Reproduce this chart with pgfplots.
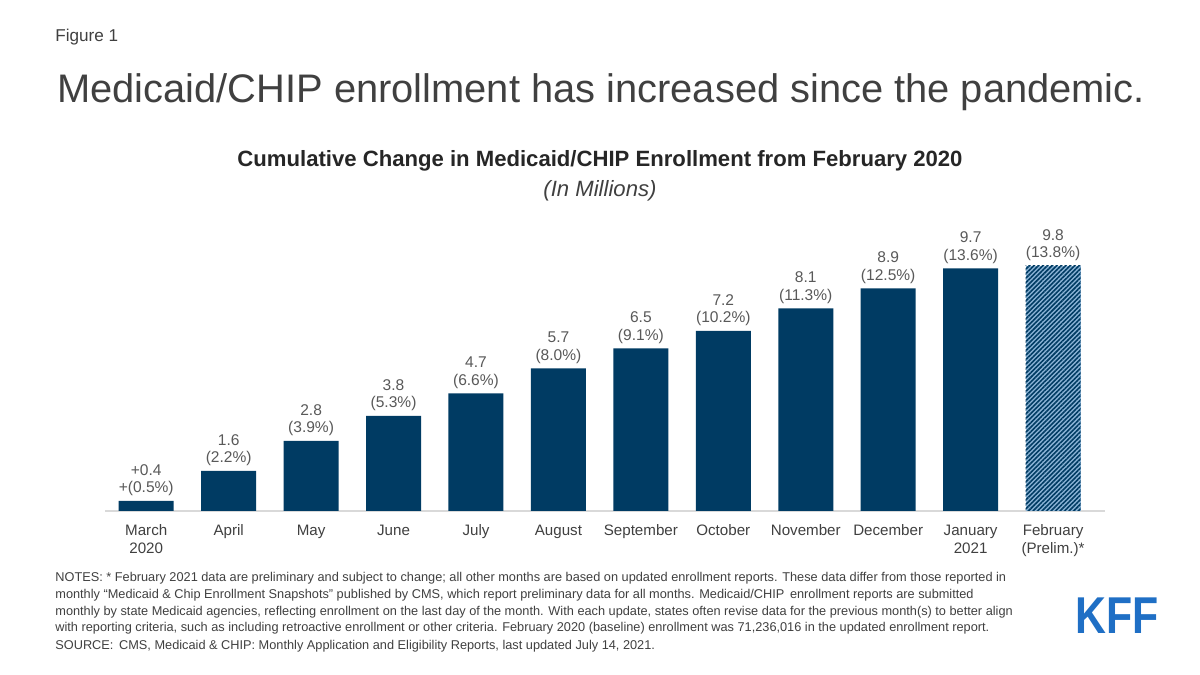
\documentclass[border=0pt]{standalone}
\usepackage{pgfplots}
\pgfplotsset{compat=1.18}
\usepackage{fontspec}
\setmainfont{Liberation Sans}
\usetikzlibrary{patterns.meta}
\definecolor{navy}{RGB}{0,59,99}
\definecolor{lightnavy}{RGB}{140,180,215}
\definecolor{txt}{RGB}{64,64,64}
\definecolor{lbl}{RGB}{89,89,89}
\definecolor{kff}{RGB}{31,111,197}
\begin{document}
\begin{tikzpicture}
\fill[white] (0,0) rectangle (600bp,337.5bp);
% headings
\node[anchor=base west, text=txt, font=\fontsize{8.6}{10}\selectfont, inner sep=0] at (27.5bp,316.5bp) {Figure 1};
\node[anchor=base west, text=txt, font=\fontsize{20}{24}\selectfont, inner sep=0] at (28.5bp,286bp) {Medicaid/CHIP enrollment has increased since the pandemic.};
\node[anchor=base, text=black!85, font=\fontsize{11.1}{13}\selectfont\bfseries, inner sep=0] at (300bp,254bp) {Cumulative Change in Medicaid/CHIP Enrollment from February 2020};
\node[anchor=base, text=txt, font=\fontsize{11.1}{13}\selectfont\itshape, inner sep=0] at (300bp,239bp) {(In Millions)};

\begin{axis}[
    at={(52.5bp,82bp)}, anchor=south west,
    scale only axis, width=500bp, height=125bp,
    xmin=-0.5, xmax=11.63, ymin=0, ymax=10,
    axis y line=none, axis x line*=bottom,
    x axis line style={draw=black!15, line width=0.6pt, -},
    xtick={0,...,11}, major tick length=0pt,
    xticklabels={March\\2020,April,May,June,July,August,September,October,November,December,January\\2021,February\\(Prelim.)*},
    typeset ticklabels with strut,
    xticklabel style={align=center, anchor=north, text=txt, font=\fontsize{7.6}{9.3}\selectfont, yshift=-2bp},
    ybar, bar width=27.5bp, bar shift=0pt,
    nodes near coords, point meta=explicit symbolic,
    every node near coord/.append style={align=center, text=lbl, font=\fontsize{7.8}{8.8}\selectfont, anchor=south, yshift=-1bp},
    clip=false,
]
\addplot[draw=none, fill=navy] coordinates {
    (0,0.4) [{+0.4\\+(0.5\%)}]
    (1,1.6) [{1.6\\(2.2\%)}]
    (2,2.8) [{2.8\\(3.9\%)}]
    (3,3.8) [{3.8\\(5.3\%)}]
    (4,4.7) [{4.7\\(6.6\%)}]
    (5,5.7) [{5.7\\(8.0\%)}]
    (6,6.5) [{6.5\\(9.1\%)}]
    (7,7.2) [{7.2\\(10.2\%)}]
    (8,8.1) [{8.1\\(11.3\%)}]
    (9,8.9) [{8.9\\(12.5\%)}]
    (10,9.7) [{9.7\\(13.6\%)}]
};
\addplot[draw=none, fill=lightnavy, postaction={pattern={Lines[angle=45,distance=1.6bp,line width=0.8bp]}, pattern color=navy}] coordinates {
    (11,9.8) [{9.8\\(13.8\%)}]
};
\end{axis}

% notes
\begin{scope}[every node/.style={anchor=base west, text=txt, font=\fontsize{6.4}{7}\selectfont, inner sep=0}]
\node at (27.5bp,46.5bp) {NOTES: * February 2021 data are preliminary and subject to change; all other months are based on updated enrollment reports. These data differ from those reported in};
\node at (27.5bp,38.2bp) {monthly “Medicaid \& Chip Enrollment Snapshots” published by CMS, which report preliminary data for all months. Medicaid/CHIP\, enrollment reports are submitted};
\node at (27.5bp,29.9bp) {monthly by state Medicaid agencies, reflecting enrollment on the last day of the month. With each update, states often revise data for the previous month(s) to better align};
\node at (27.5bp,21.6bp) {with reporting criteria, such as including retroactive enrollment or other criteria. February 2020 (baseline) enrollment was 71,236,016 in the updated enrollment report.};
\node at (27.5bp,13bp) {SOURCE:\, CMS, Medicaid \& CHIP: Monthly Application and Eligibility Reports, last updated July 14, 2021.};
\end{scope}
% logo
\node[anchor=base west, inner sep=0, text=kff, font=\fontsize{26}{28}\selectfont\bfseries] at (537.5bp,21bp) {\scalebox{0.826}[1]{KFF}};
\end{tikzpicture}
\end{document}
